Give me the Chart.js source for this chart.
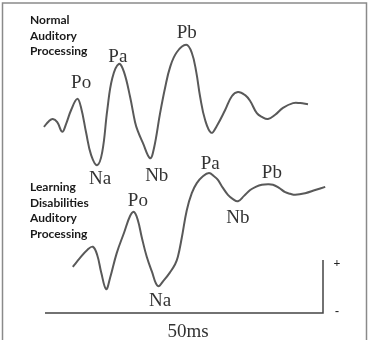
<!DOCTYPE html>
<html>
<head>
<meta charset="utf-8">
<script src="https://cdn.jsdelivr.net/npm/chart.js@4/dist/chart.umd.min.js"></script>
<style>
html,body{margin:0;padding:0;background:#fff;}
#wrap{width:370px;height:340px;position:relative;}
</style>
</head>
<body>
<div id="wrap"><canvas id="c" width="370" height="340"></canvas></div>
<script>
// Time (ms) and amplitude (arbitrary units, scale bar = 10)
const normalTime = [-0.2,0.7,1.4,2.2,3.1,3.8,4.7,5.8,6.5,7.4,8.3,9.4,10.3,11.2,12.1,13.3,14.2,15.3,16.2,16.7,17.6,18.9,19.6,20.7,21.6,22.5,23.7,25.4,26.4,27.2,27.9,28.8,29.9,30.9,32.4,33.6,34.7,36.0,36.9,38.1,39.0,40.1,41.4,42.8,44.6,45.9,47.3];
const normalAmp = [35.1,36.2,36.6,36.0,34.2,35.7,38.3,40.4,38.7,34.0,29.8,27.9,30.4,38.3,44.3,47.0,45.5,40.8,36.0,34.3,32.1,29.2,31.1,37.7,42.5,46.4,49.2,50.6,49.1,45.5,40.8,36.4,34.0,35.3,38.3,40.9,41.7,41.1,40.0,37.7,37.0,36.6,37.4,38.7,39.6,39.6,39.4];

const ldTime = [5.0,6.3,7.6,8.6,9.4,10.1,11.0,11.7,12.9,14.2,15.3,16.0,16.7,17.4,18.3,19.2,20.3,21.4,22.5,23.4,23.9,24.6,25.5,26.4,27.3,28.4,29.5,30.4,31.1,32.0,32.9,33.8,34.7,35.8,36.9,37.9,39.0,40.1,41.0,42.1,43.2,44.1,45.0,46.8,48.6,50.4];
const ldAmp = [8.7,10.4,11.9,12.5,10.9,7.7,4.5,6.6,11.3,15.1,18.3,19.1,17.5,14.3,10.6,7.9,5.1,6.2,7.7,9.2,10.6,14.2,19.4,22.6,24.5,25.8,26.4,25.8,25.1,23.6,22.3,21.5,21.1,22.1,23.2,23.8,24.2,24.3,24.2,23.6,22.8,22.5,22.3,22.6,23.2,23.8];

// Time base (ms) and amplitude scale bar
const timeBase = [0, 50];
const scaleBar = [0, 10];
const timeLabel = "50ms";

// Peak labels: text, time (ms), amplitude
const peakNames = ["Po","Pa","Pb","Na","Nb","Po","Na","Pa","Nb","Pb"];
const peakTime  = [6.5,13.1,25.5,9.9,20.1,16.7,20.7,29.7,34.7,40.8];
const peakAmp   = [43.4,48.3,52.8,25.3,25.8,21.1,2.3,28.1,17.9,26.4];

const groupTitles = [["Normal","Auditory","Processing"],["Learning","Disabilities","Auditory","Processing"]];

const toPts = (t,a) => t.map((x,i)=>({x:x,y:a[i]}));
const axisPts = [{x:timeBase[0],y:scaleBar[0]},{x:timeBase[1],y:scaleBar[0]},{x:timeBase[1],y:scaleBar[1]}];

const overlay = {
  id:'overlay',
  afterDatasetsDraw(chart){
    const ctx = chart.ctx, xs = chart.scales.x, ys = chart.scales.y;
    ctx.save();
    // frame
    ctx.strokeStyle = '#8a8a8a'; ctx.lineWidth = 1.5;
    ctx.strokeRect(2.5, 3, 364, 340);
    // peak labels
    ctx.fillStyle = '#333';
    ctx.font = '19px "Liberation Serif", "Times New Roman", serif';
    ctx.textAlign = 'center'; ctx.textBaseline = 'middle';
    peakNames.forEach((n,i)=>{
      ctx.fillText(n, xs.getPixelForValue(peakTime[i]), ys.getPixelForValue(peakAmp[i]));
    });
    // time label
    ctx.fillText(timeLabel, xs.getPixelForValue((timeBase[0]+timeBase[1])/2)+4, ys.getPixelForValue(scaleBar[0])+19);
    // + / -
    ctx.fillStyle = '#222';
    ctx.font = 'bold 12px "Liberation Serif", serif';
    const bx = xs.getPixelForValue(timeBase[1]) + 14;
    ctx.fillText('+', bx, ys.getPixelForValue(scaleBar[1])+4);
    ctx.fillText('-', bx, ys.getPixelForValue(scaleBar[0])-1);
    // group titles
    ctx.fillStyle = '#1a1a1a';
    ctx.font = 'bold 12px Lato, "Open Sans", sans-serif';
    ctx.textAlign = 'left';
    const starts = [20, 187];
    groupTitles.forEach((g,gi)=>{
      g.forEach((line,li)=>{ ctx.fillText(line, 30, starts[gi] + li*15.7); });
    });
    ctx.restore();
  }
};

new Chart(document.getElementById('c'), {
  type: 'line',
  data: {
    datasets: [
      {label:'Normal', data: toPts(normalTime, normalAmp), borderColor:'#595959', borderWidth:2, pointRadius:0, tension:0.4, clip:false, fill:false},
      {label:'Learning Disabilities', data: toPts(ldTime, ldAmp), borderColor:'#595959', borderWidth:2, pointRadius:0, tension:0.4, clip:false, fill:false},
      {label:'Scale', data: axisPts, borderColor:'#444', borderWidth:1.5, pointRadius:0, tension:0, clip:false, fill:false}
    ]
  },
  options: {
    responsive: false,
    animation: false,
    devicePixelRatio: 1,
    layout: { padding: { left: 45, right: 47, top: 21.5, bottom: 27 } },
    scales: {
      x: { type:'linear', min:0, max:50, display:false },
      y: { type:'linear', min:0, max:55, display:false }
    },
    plugins: { legend:{display:false}, tooltip:{enabled:false} }
  },
  plugins: [overlay]
});
</script>
</body>
</html>
